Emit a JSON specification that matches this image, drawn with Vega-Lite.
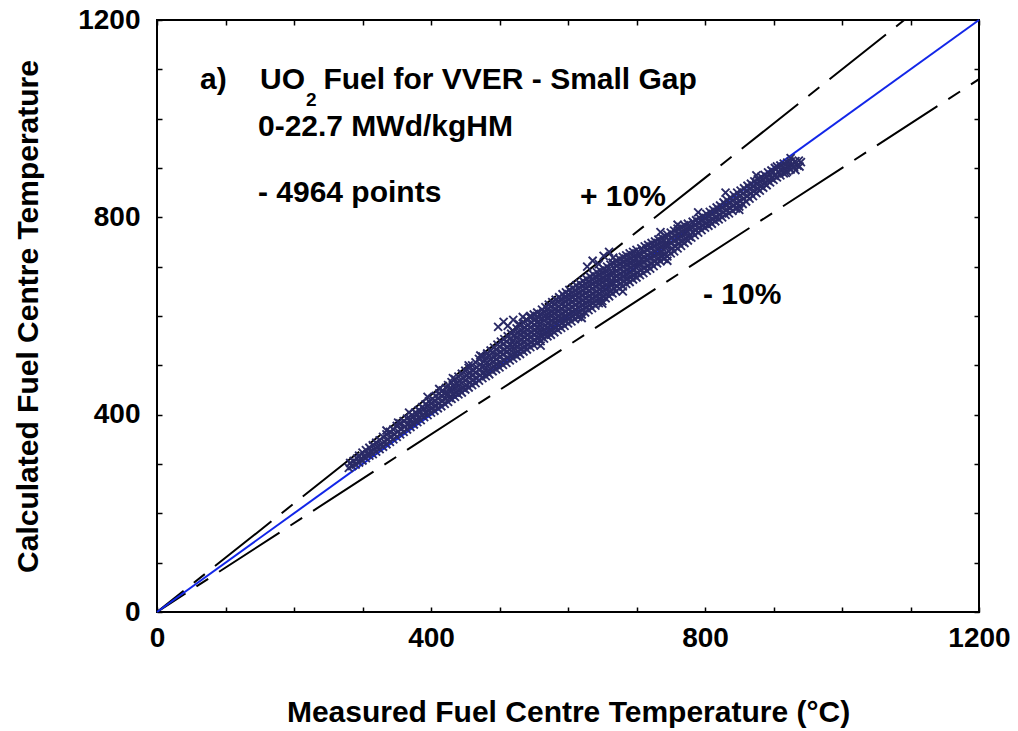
{
  "$schema": "https://vega.github.io/schema/vega-lite/v6.json",
  "width": 822,
  "height": 592,
  "autosize": {"type": "none"},
  "padding": {"left": 157, "top": 20, "right": 39, "bottom": 119},
  "background": "white",
  "config": {
    "view": {"stroke": "black", "strokeWidth": 2},
    "font": "Liberation Sans",
    "axis": {
      "domain": false,
      "grid": false,
      "tickColor": "black",
      "tickWidth": 1.5,
      "tickSize": -5,
      "labelFont": "Liberation Sans",
      "labelFontSize": 28,
      "labelFontWeight": "bold",
      "labelColor": "black",
      "labelFlush": false,
      "labelOverlap": false,
      "labelBound": false,
      "titleFont": "Liberation Sans",
      "titleFontSize": 30,
      "titleFontWeight": "bold",
      "titleColor": "black"
    }
  },
  "datasets": {
    "limits": [
      {"series": "+10%", "x": 0, "y": 0},
      {"series": "+10%", "x": 1090.9, "y": 1200},
      {"series": "-10%", "x": 0, "y": 0},
      {"series": "-10%", "x": 1200, "y": 1080}
    ],
    "identity": [
      {"x": 0, "y": 0},
      {"x": 1200, "y": 1200}
    ],
    "notes": [
      {"text": "a)", "x": 62.8, "y": 1078},
      {"text": "UO", "x": 150.4, "y": 1078},
      {"text": "Fuel for VVER - Small Gap", "x": 243, "y": 1078},
      {"text": "0-22.7 MWd/kgHM", "x": 147.4, "y": 983},
      {"text": "- 4964 points", "x": 147.4, "y": 849},
      {"text": "+ 10%", "x": 617.5, "y": 841},
      {"text": "- 10%", "x": 797.1, "y": 643}
    ],
    "subscripts": [
      {"text": "2", "x": 217.5, "y": 1037}
    ],
    "points": [
      {"x":280,"y":292},{"x":282,"y":302},{"x":285,"y":296},{"x":287,"y":306},{"x":290,"y":299},{"x":292,"y":311},
      {"x":295,"y":303},{"x":297,"y":310},{"x":295,"y":317},{"x":300,"y":307},{"x":302,"y":315},{"x":300,"y":323},
      {"x":305,"y":312},{"x":307,"y":320},{"x":305,"y":328},{"x":310,"y":317},{"x":312,"y":325},{"x":310,"y":333},
      {"x":315,"y":320},{"x":317,"y":329},{"x":315,"y":338},{"x":320,"y":325},{"x":322,"y":334},{"x":320,"y":343},
      {"x":325,"y":330},{"x":327,"y":339},{"x":325,"y":348},{"x":330,"y":335},{"x":332,"y":345},{"x":330,"y":355},
      {"x":335,"y":340},{"x":337,"y":350},{"x":335,"y":360},{"x":340,"y":345},{"x":342,"y":355},{"x":340,"y":365},
      {"x":345,"y":350},{"x":347,"y":360},{"x":345,"y":370},{"x":350,"y":355},{"x":352,"y":366},{"x":350,"y":377},
      {"x":355,"y":360},{"x":357,"y":371},{"x":355,"y":382},{"x":360,"y":365},{"x":362,"y":376},{"x":360,"y":387},
      {"x":365,"y":370},{"x":367,"y":381},{"x":365,"y":392},
      {"x":370,"y":375},{"x":372,"y":383},{"x":370,"y":391},{"x":372,"y":399},
      {"x":375,"y":380},{"x":377,"y":388},{"x":375,"y":396},{"x":377,"y":404},
      {"x":380,"y":385},{"x":382,"y":393},{"x":380,"y":401},{"x":382,"y":409},
      {"x":385,"y":389},{"x":387,"y":398},{"x":385,"y":406},{"x":387,"y":415},
      {"x":390,"y":395},{"x":392,"y":404},{"x":390,"y":412},{"x":392,"y":421},
      {"x":395,"y":399},{"x":397,"y":408},{"x":395,"y":418},{"x":397,"y":427},
      {"x":400,"y":404},{"x":402,"y":413},{"x":400,"y":423},{"x":402,"y":432},
      {"x":405,"y":408},{"x":407,"y":418},{"x":405,"y":428},{"x":407,"y":438},
      {"x":410,"y":413},{"x":412,"y":423},{"x":410,"y":433},{"x":412,"y":443},
      {"x":415,"y":417},{"x":417,"y":428},{"x":415,"y":438},{"x":417,"y":449},
      {"x":420,"y":422},{"x":422,"y":433},{"x":420,"y":443},{"x":422,"y":454},
      {"x":425,"y":426},{"x":427,"y":434},{"x":425,"y":443},{"x":427,"y":452},{"x":425,"y":460},
      {"x":430,"y":432},{"x":432,"y":440},{"x":430,"y":449},{"x":432,"y":458},{"x":430,"y":466},
      {"x":435,"y":436},{"x":437,"y":445},{"x":435,"y":454},{"x":437,"y":463},{"x":435,"y":472},
      {"x":440,"y":441},{"x":442,"y":450},{"x":440,"y":459},{"x":442,"y":468},{"x":440,"y":477},
      {"x":445,"y":445},{"x":447,"y":454},{"x":445,"y":464},{"x":447,"y":474},{"x":445,"y":483},
      {"x":450,"y":451},{"x":452,"y":460},{"x":450,"y":470},{"x":452,"y":480},{"x":450,"y":489},
      {"x":455,"y":455},{"x":457,"y":465},{"x":455,"y":475},{"x":457,"y":485},{"x":455,"y":495},
      {"x":460,"y":460},{"x":462,"y":470},{"x":460,"y":480},{"x":462,"y":490},{"x":460,"y":500},
      {"x":465,"y":464},{"x":467,"y":474},{"x":465,"y":485},{"x":467,"y":496},{"x":465,"y":506},
      {"x":470,"y":469},{"x":472,"y":480},{"x":470,"y":491},{"x":472,"y":502},{"x":470,"y":513},
      {"x":475,"y":474},{"x":477,"y":485},{"x":475,"y":496},{"x":477,"y":507},{"x":475,"y":518},
      {"x":480,"y":478},{"x":482,"y":487},{"x":480,"y":496},{"x":482,"y":506},{"x":480,"y":515},{"x":482,"y":524},
      {"x":485,"y":482},{"x":487,"y":492},{"x":485,"y":501},{"x":487,"y":511},{"x":485,"y":520},{"x":487,"y":530},
      {"x":490,"y":488},{"x":492,"y":498},{"x":490,"y":507},{"x":492,"y":517},{"x":490,"y":526},{"x":492,"y":536},
      {"x":495,"y":492},{"x":497,"y":502},{"x":495,"y":512},{"x":497,"y":522},{"x":495,"y":532},{"x":497,"y":542},
      {"x":500,"y":496},{"x":502,"y":506},{"x":500,"y":517},{"x":502,"y":527},{"x":500,"y":538},{"x":502,"y":548},
      {"x":505,"y":501},{"x":507,"y":511},{"x":505,"y":522},{"x":507,"y":532},{"x":505,"y":543},{"x":507,"y":553},
      {"x":510,"y":505},{"x":512,"y":516},{"x":510,"y":527},{"x":512,"y":537},{"x":510,"y":548},{"x":512,"y":559},
      {"x":515,"y":510},{"x":517,"y":521},{"x":515,"y":532},{"x":517,"y":542},{"x":515,"y":553},{"x":517,"y":564},
      {"x":520,"y":514},{"x":522,"y":523},{"x":520,"y":533},{"x":522,"y":542},{"x":520,"y":551},{"x":522,"y":561},{"x":520,"y":570},
      {"x":525,"y":519},{"x":527,"y":528},{"x":525,"y":538},{"x":527,"y":547},{"x":525,"y":556},{"x":527,"y":566},{"x":525,"y":575},
      {"x":530,"y":523},{"x":532,"y":533},{"x":530,"y":542},{"x":532,"y":552},{"x":530,"y":562},{"x":532,"y":571},{"x":530,"y":581},
      {"x":535,"y":528},{"x":537,"y":538},{"x":535,"y":547},{"x":537,"y":557},{"x":535,"y":567},{"x":537,"y":576},{"x":535,"y":586},
      {"x":540,"y":532},{"x":542,"y":542},{"x":540,"y":552},{"x":542,"y":562},{"x":540,"y":572},{"x":542,"y":582},{"x":540,"y":592},
      {"x":545,"y":537},{"x":547,"y":547},{"x":545,"y":557},{"x":547,"y":567},{"x":545,"y":577},{"x":547,"y":587},{"x":545,"y":597},
      {"x":550,"y":541},{"x":552,"y":551},{"x":550,"y":562},{"x":552,"y":572},{"x":550,"y":582},{"x":552,"y":593},{"x":550,"y":603},
      {"x":555,"y":545},{"x":557,"y":555},{"x":555,"y":566},{"x":557,"y":576},{"x":555,"y":586},{"x":557,"y":597},{"x":555,"y":607},
      {"x":560,"y":549},{"x":562,"y":558},{"x":560,"y":567},{"x":562,"y":576},{"x":560,"y":586},{"x":562,"y":595},{"x":560,"y":604},{"x":562,"y":613},
      {"x":565,"y":554},{"x":567,"y":563},{"x":565,"y":572},{"x":567,"y":581},{"x":565,"y":591},{"x":567,"y":600},{"x":565,"y":609},{"x":567,"y":618},
      {"x":570,"y":559},{"x":572,"y":568},{"x":570,"y":577},{"x":572,"y":586},{"x":570,"y":596},{"x":572,"y":605},{"x":570,"y":614},{"x":572,"y":623},
      {"x":575,"y":562},{"x":577,"y":571},{"x":575,"y":581},{"x":577,"y":590},{"x":575,"y":600},{"x":577,"y":609},{"x":575,"y":619},{"x":577,"y":628},
      {"x":580,"y":567},{"x":582,"y":576},{"x":580,"y":586},{"x":582,"y":595},{"x":580,"y":605},{"x":582,"y":614},{"x":580,"y":624},{"x":582,"y":633},
      {"x":585,"y":572},{"x":587,"y":581},{"x":585,"y":591},{"x":587,"y":600},{"x":585,"y":610},{"x":587,"y":619},{"x":585,"y":629},{"x":587,"y":638},
      {"x":590,"y":576},{"x":592,"y":586},{"x":590,"y":595},{"x":592,"y":605},{"x":590,"y":615},{"x":592,"y":625},{"x":590,"y":634},{"x":592,"y":644},
      {"x":595,"y":580},{"x":597,"y":590},{"x":595,"y":599},{"x":597,"y":609},{"x":595,"y":619},{"x":597,"y":629},{"x":595,"y":638},{"x":597,"y":648},
      {"x":600,"y":585},{"x":602,"y":595},{"x":600,"y":604},{"x":602,"y":614},{"x":600,"y":624},{"x":602,"y":634},{"x":600,"y":643},{"x":602,"y":653},
      {"x":605,"y":589},{"x":607,"y":599},{"x":605,"y":608},{"x":607,"y":618},{"x":605,"y":628},{"x":607,"y":638},{"x":605,"y":647},{"x":607,"y":657},
      {"x":610,"y":594},{"x":612,"y":604},{"x":610,"y":613},{"x":612,"y":623},{"x":610,"y":633},{"x":612,"y":643},{"x":610,"y":652},{"x":612,"y":662},
      {"x":615,"y":598},{"x":617,"y":608},{"x":615,"y":617},{"x":617,"y":627},{"x":615,"y":637},{"x":617,"y":647},{"x":615,"y":656},{"x":617,"y":666},
      {"x":620,"y":603},{"x":622,"y":613},{"x":620,"y":622},{"x":622,"y":632},{"x":620,"y":642},{"x":622,"y":652},{"x":620,"y":661},{"x":622,"y":671},
      {"x":625,"y":607},{"x":627,"y":617},{"x":625,"y":626},{"x":627,"y":636},{"x":625,"y":646},{"x":627,"y":656},{"x":625,"y":665},{"x":627,"y":675},
      {"x":630,"y":612},{"x":632,"y":622},{"x":630,"y":631},{"x":632,"y":641},{"x":630,"y":651},{"x":632,"y":661},{"x":630,"y":670},{"x":632,"y":680},
      {"x":635,"y":616},{"x":637,"y":626},{"x":635,"y":635},{"x":637,"y":645},{"x":635,"y":655},{"x":637,"y":665},{"x":635,"y":674},{"x":637,"y":684},
      {"x":640,"y":621},{"x":642,"y":631},{"x":640,"y":640},{"x":642,"y":650},{"x":640,"y":660},{"x":642,"y":670},{"x":640,"y":679},{"x":642,"y":689},
      {"x":645,"y":626},{"x":647,"y":635},{"x":645,"y":645},{"x":647,"y":654},{"x":645,"y":664},{"x":647,"y":673},{"x":645,"y":683},{"x":647,"y":692},
      {"x":650,"y":630},{"x":652,"y":639},{"x":650,"y":649},{"x":652,"y":658},{"x":650,"y":668},{"x":652,"y":677},{"x":650,"y":687},{"x":652,"y":696},
      {"x":655,"y":636},{"x":657,"y":645},{"x":655,"y":654},{"x":657,"y":663},{"x":655,"y":673},{"x":657,"y":682},{"x":655,"y":691},{"x":657,"y":700},
      {"x":660,"y":640},{"x":662,"y":649},{"x":660,"y":658},{"x":662,"y":667},{"x":660,"y":677},{"x":662,"y":686},{"x":660,"y":695},{"x":662,"y":704},
      {"x":665,"y":646},{"x":667,"y":656},{"x":665,"y":667},{"x":667,"y":677},{"x":665,"y":687},{"x":667,"y":698},{"x":665,"y":708},
      {"x":670,"y":650},{"x":672,"y":660},{"x":670,"y":671},{"x":672,"y":681},{"x":670,"y":691},{"x":672,"y":702},{"x":670,"y":712},
      {"x":675,"y":656},{"x":677,"y":666},{"x":675,"y":676},{"x":677,"y":686},{"x":675,"y":696},{"x":677,"y":706},{"x":675,"y":716},
      {"x":680,"y":660},{"x":682,"y":670},{"x":680,"y":680},{"x":682,"y":690},{"x":680,"y":700},{"x":682,"y":710},{"x":680,"y":720},
      {"x":685,"y":665},{"x":687,"y":675},{"x":685,"y":684},{"x":687,"y":694},{"x":685,"y":704},{"x":687,"y":713},{"x":685,"y":723},
      {"x":690,"y":669},{"x":692,"y":679},{"x":690,"y":688},{"x":692,"y":698},{"x":690,"y":708},{"x":692,"y":717},{"x":690,"y":727},
      {"x":695,"y":674},{"x":697,"y":683},{"x":695,"y":693},{"x":697,"y":702},{"x":695,"y":711},{"x":697,"y":721},{"x":695,"y":730},
      {"x":700,"y":678},{"x":702,"y":687},{"x":700,"y":697},{"x":702,"y":706},{"x":700,"y":715},{"x":702,"y":725},{"x":700,"y":734},
      {"x":705,"y":683},{"x":707,"y":694},{"x":705,"y":705},{"x":707,"y":715},{"x":705,"y":726},{"x":707,"y":737},
      {"x":710,"y":687},{"x":712,"y":698},{"x":710,"y":709},{"x":712,"y":719},{"x":710,"y":730},{"x":712,"y":741},
      {"x":715,"y":692},{"x":717,"y":702},{"x":715,"y":713},{"x":717,"y":723},{"x":715,"y":734},{"x":717,"y":744},
      {"x":720,"y":696},{"x":722,"y":706},{"x":720,"y":717},{"x":722,"y":727},{"x":720,"y":738},{"x":722,"y":748},
      {"x":725,"y":701},{"x":727,"y":711},{"x":725,"y":721},{"x":727,"y":731},{"x":725,"y":741},{"x":727,"y":751},
      {"x":730,"y":707},{"x":732,"y":717},{"x":730,"y":726},{"x":732,"y":736},{"x":730,"y":745},{"x":732,"y":755},
      {"x":735,"y":711},{"x":737,"y":721},{"x":735,"y":730},{"x":737,"y":740},{"x":735,"y":749},{"x":737,"y":759},
      {"x":740,"y":716},{"x":742,"y":725},{"x":740,"y":734},{"x":742,"y":744},{"x":740,"y":753},{"x":742,"y":762},
      {"x":745,"y":721},{"x":747,"y":732},{"x":745,"y":743},{"x":747,"y":754},{"x":745,"y":765},
      {"x":750,"y":727},{"x":752,"y":737},{"x":750,"y":748},{"x":752,"y":759},{"x":750,"y":769},
      {"x":755,"y":731},{"x":757,"y":741},{"x":755,"y":752},{"x":757,"y":763},{"x":755,"y":773},
      {"x":760,"y":737},{"x":762,"y":747},{"x":760,"y":757},{"x":762,"y":767},{"x":760,"y":777},
      {"x":765,"y":742},{"x":767,"y":751},{"x":765,"y":761},{"x":767,"y":771},{"x":765,"y":780},
      {"x":770,"y":748},{"x":772,"y":757},{"x":770,"y":766},{"x":772,"y":775},{"x":770,"y":784},
      {"x":775,"y":753},{"x":777,"y":761},{"x":775,"y":770},{"x":777,"y":779},{"x":775,"y":787},
      {"x":780,"y":759},{"x":782,"y":770},{"x":780,"y":780},{"x":782,"y":791},
      {"x":785,"y":764},{"x":787,"y":774},{"x":785,"y":784},{"x":787,"y":794},
      {"x":790,"y":769},{"x":792,"y":779},{"x":790,"y":789},{"x":792,"y":799},
      {"x":795,"y":774},{"x":797,"y":783},{"x":795,"y":793},{"x":797,"y":802},
      {"x":800,"y":779},{"x":802,"y":788},{"x":800,"y":798},{"x":802,"y":807},
      {"x":805,"y":783},{"x":807,"y":792},{"x":805,"y":802},{"x":807,"y":811},
      {"x":810,"y":787},{"x":812,"y":796},{"x":810,"y":806},{"x":812,"y":815},
      {"x":815,"y":792},{"x":817,"y":801},{"x":815,"y":811},{"x":817,"y":820},
      {"x":820,"y":796},{"x":822,"y":805},{"x":820,"y":815},{"x":822,"y":824},
      {"x":825,"y":800},{"x":827,"y":810},{"x":825,"y":820},{"x":827,"y":830},
      {"x":830,"y":805},{"x":832,"y":815},{"x":830,"y":825},{"x":832,"y":835},
      {"x":835,"y":808},{"x":837,"y":819},{"x":835,"y":829},{"x":837,"y":840},
      {"x":840,"y":813},{"x":842,"y":824},{"x":840,"y":834},{"x":842,"y":845},
      {"x":845,"y":818},{"x":847,"y":829},{"x":845,"y":839},{"x":847,"y":850},
      {"x":850,"y":822},{"x":852,"y":833},{"x":850,"y":843},{"x":852,"y":854},
      {"x":855,"y":827},{"x":857,"y":838},{"x":855,"y":848},{"x":857,"y":859},
      {"x":860,"y":832},{"x":862,"y":843},{"x":860,"y":853},{"x":862,"y":864},
      {"x":865,"y":838},{"x":867,"y":848},{"x":865,"y":858},{"x":867,"y":868},
      {"x":870,"y":843},{"x":872,"y":853},{"x":870,"y":863},{"x":872,"y":873},
      {"x":875,"y":849},{"x":877,"y":858},{"x":875,"y":868},{"x":877,"y":877},
      {"x":880,"y":854},{"x":882,"y":863},{"x":880,"y":873},{"x":882,"y":882},
      {"x":885,"y":860},{"x":887,"y":869},{"x":885,"y":877},{"x":887,"y":886},
      {"x":890,"y":865},{"x":892,"y":874},{"x":890,"y":882},{"x":892,"y":891},
      {"x":895,"y":871},{"x":897,"y":879},{"x":895,"y":887},{"x":897,"y":895},
      {"x":900,"y":876},{"x":902,"y":884},{"x":900,"y":892},{"x":902,"y":900},
      {"x":905,"y":881},{"x":907,"y":892},{"x":905,"y":903},
      {"x":910,"y":885},{"x":912,"y":895},{"x":910,"y":905},
      {"x":915,"y":889},{"x":917,"y":899},{"x":915,"y":909},
      {"x":920,"y":893},{"x":922,"y":902},{"x":920,"y":911},
      {"x":925,"y":897},{"x":927,"y":905},{"x":925,"y":913},
      {"x":930,"y":902},{"x":932,"y":914},{"x":935,"y":905},{"x":937,"y":915},
      {"x":335,"y":368},{"x":352,"y":384},{"x":368,"y":404},{"x":395,"y":436},{"x":412,"y":452},{"x":432,"y":474},
      {"x":455,"y":500},{"x":472,"y":520},{"x":498,"y":578},{"x":506,"y":588},{"x":512,"y":580},{"x":520,"y":592},
      {"x":528,"y":584},{"x":534,"y":598},{"x":545,"y":600},{"x":552,"y":594},{"x":628,"y":700},{"x":636,"y":712},
      {"x":645,"y":705},{"x":652,"y":722},{"x":660,"y":730},{"x":666,"y":718},{"x":560,"y":540},{"x":620,"y":596},
      {"x":680,"y":650},{"x":745,"y":712},{"x":650,"y":625},{"x":925,"y":920},{"x":932,"y":896},{"x":940,"y":912},
      {"x":918,"y":890},{"x":938,"y":903},{"x":790,"y":810},{"x":830,"y":850},{"x":850,"y":815},{"x":875,"y":885},
      {"x":760,"y":785},{"x":735,"y":770}
    ]
  },
  "layer": [
    {
      "data": {"name": "limits"},
      "mark": {"type": "line", "color": "black", "strokeWidth": 2, "strokeDash": [72, 13, 14, 13], "strokeDashOffset": 38, "clip": true},
      "encoding": {
        "x": {
          "field": "x", "type": "quantitative",
          "scale": {"domain": [0, 1200], "nice": false, "zero": true},
          "axis": {
            "orient": "bottom",
            "values": [0, 100, 200, 300, 400, 500, 600, 700, 800, 900, 1000, 1100, 1200],
            "format": "d",
            "labelExpr": "datum.value % 400 === 0 ? datum.label : ''",
            "labelPadding": 17,
            "title": "Measured Fuel Centre Temperature (°C)",
            "titleX": 411,
            "titleY": 100,
            "titleBaseline": "middle",
            "titleAlign": "center"
          }
        },
        "y": {
          "field": "y", "type": "quantitative",
          "scale": {"domain": [0, 1200], "nice": false, "zero": true},
          "axis": {
            "orient": "left",
            "values": [0, 100, 200, 300, 400, 500, 600, 700, 800, 900, 1000, 1100, 1200],
            "format": "d",
            "labelExpr": "datum.value % 400 === 0 ? datum.label : ''",
            "labelPadding": 22,
            "title": "Calculated Fuel Centre Temperature",
            "titleAngle": -90,
            "titleX": -129,
            "titleY": 296,
            "titleBaseline": "middle",
            "titleAlign": "center"
          }
        },
        "detail": {"field": "series"}
      }
    },
    {
      "data": {"name": "identity"},
      "mark": {"type": "line", "color": "#1226e8", "strokeWidth": 2},
      "encoding": {
        "x": {
          "field": "x", "type": "quantitative",
          "axis": {
            "orient": "top",
            "values": [0, 100, 200, 300, 400, 500, 600, 700, 800, 900, 1000, 1100, 1200],
            "labels": false,
            "title": null
          }
        },
        "y": {
          "field": "y", "type": "quantitative",
          "axis": {
            "orient": "right",
            "values": [0, 100, 200, 300, 400, 500, 600, 700, 800, 900, 1000, 1100, 1200],
            "labels": false,
            "title": null
          }
        }
      }
    },
    {
      "data": {"name": "points"},
      "mark": {"type": "point", "shape": "M-1,-1L1,1M1,-1L-1,1", "filled": false, "size": 64, "strokeWidth": 1.9, "color": "#2a2a66", "opacity": 1},
      "encoding": {
        "x": {"field": "x", "type": "quantitative", "axis": null},
        "y": {"field": "y", "type": "quantitative", "axis": null}
      }
    },
    {
      "data": {"name": "notes"},
      "mark": {"type": "text", "font": "Liberation Sans", "fontWeight": "bold", "fontSize": 30, "align": "left", "baseline": "middle", "color": "black"},
      "encoding": {
        "x": {"field": "x", "type": "quantitative", "axis": null},
        "y": {"field": "y", "type": "quantitative", "axis": null},
        "text": {"field": "text"}
      }
    },
    {
      "data": {"name": "subscripts"},
      "mark": {"type": "text", "font": "Liberation Sans", "fontWeight": "bold", "fontSize": 19, "align": "left", "baseline": "middle", "color": "black"},
      "encoding": {
        "x": {"field": "x", "type": "quantitative", "axis": null},
        "y": {"field": "y", "type": "quantitative", "axis": null},
        "text": {"field": "text"}
      }
    }
  ],
  "resolve": {"axis": {"x": "independent", "y": "independent"}}
}
